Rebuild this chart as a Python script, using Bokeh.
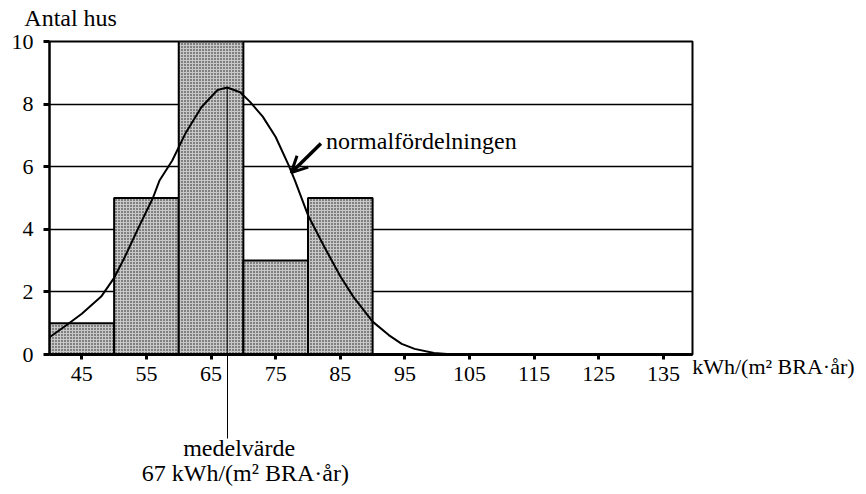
from bokeh.plotting import figure
from bokeh.models import Range1d, FixedTicker, Label, Arrow, OpenHead
from bokeh.embed import file_html
from bokeh.resources import INLINE

# ---- data ----
bin_left = [40, 50, 60, 70, 80]
bin_right = [50, 60, 70, 80, 90]
counts = [1, 5, 10, 3, 5]

x_ticks = [45, 55, 65, 75, 85, 95, 105, 115, 125, 135]
y_ticks = [0, 2, 4, 6, 8, 10]

curve_x = [34, 36, 38.5, 40, 42.5, 45, 48, 50, 51.5, 54, 56, 57, 59, 61, 63.5,
           66, 67.5, 69.5, 71, 73, 75, 77, 78, 80, 82.5, 85, 87, 90, 92.5,
           94.5, 96.5, 99.5, 102.5]
curve_y = [0.02, 0.15, 0.33, 0.55, 0.92, 1.3, 1.85, 2.45, 3.05, 4.15, 5.0, 5.55,
           6.2, 7.05, 7.9, 8.45, 8.53, 8.38, 8.08, 7.6, 6.95, 6.05, 5.55, 4.45,
           3.45, 2.5, 1.85, 1.05, 0.62, 0.34, 0.18, 0.05, 0.0]

mean_x = 67.5
mean_peak = 8.53

y_title = "Antal hus"
x_unit = "kWh/(m² BRA·år)"
curve_label = "normalfördelningen"
mean_label_1 = "medelvärde"
mean_label_2 = "67 kWh/(m² BRA·år)"

FONT = "Liberation Serif"

p = figure(width=858, height=486,
           x_range=Range1d(40, 139.5), y_range=Range1d(0, 10),
           output_backend="svg", toolbar_location=None,
           min_border_left=49, min_border_right=166,
           min_border_top=41, min_border_bottom=132)
p.background_fill_color = "white"
p.border_fill_color = "white"
p.outline_line_color = "black"
p.outline_line_width = 2

p.xgrid.visible = False
p.ygrid.ticker = FixedTicker(ticks=[2, 4, 6, 8, 10])
p.ygrid.grid_line_color = "black"
p.ygrid.grid_line_width = 1.5

p.quad(left=bin_left, right=bin_right, bottom=0, top=counts,
       fill_color="#c8c8c8", hatch_pattern="dot", hatch_color="black",
       hatch_scale=3, hatch_weight=1.5, hatch_alpha=0.9,
       line_color="black", line_width=2)

p.line(curve_x, curve_y, line_color="black", line_width=2)

# mean line inside the plot area
p.segment(x0=[mean_x], y0=[0], x1=[mean_x], y1=[mean_peak],
          line_color="black", line_width=1)

# axes
MEAN_TICK = 84
p.xaxis.ticker = FixedTicker(ticks=x_ticks, minor_ticks=[mean_x])
p.xaxis.axis_line_width = 3
p.xaxis.major_tick_out = 5
p.xaxis.major_tick_in = 0
p.xaxis.major_tick_line_width = 3
# the mean line continues below the axis as a long minor tick
p.xaxis.minor_tick_in = 0
p.xaxis.minor_tick_out = MEAN_TICK
p.xaxis.minor_tick_line_width = 1
p.xaxis.minor_tick_line_color = "black"
p.xaxis.major_label_standoff = 12 - MEAN_TICK
p.xaxis.major_label_text_font = FONT
p.xaxis.major_label_text_font_size = "22px"
p.xaxis.major_label_text_color = "black"

p.yaxis.ticker = FixedTicker(ticks=y_ticks)
p.yaxis.axis_line_width = 2
p.yaxis.major_tick_out = 6
p.yaxis.major_tick_in = 0
p.yaxis.major_tick_line_width = 3
p.yaxis.minor_tick_line_color = None
p.yaxis.major_label_standoff = 10
p.yaxis.major_label_text_font = FONT
p.yaxis.major_label_text_font_size = "22px"
p.yaxis.major_label_text_color = "black"

# arrow pointing at the curve
p.add_layout(Arrow(end=OpenHead(size=16, line_width=3, line_color="black"),
                   x_start=82.0, y_start=6.74, x_end=77.4, y_end=5.81,
                   line_width=3.5, line_color="black"))

def lab(x, y, t, align="left", place=None, size="24px"):
    l = Label(x=x, y=y, text=t, text_font=FONT, text_font_size=size,
              text_color="black", text_align=align, text_baseline="alphabetic")
    if place is None:
        p.add_layout(l)
    else:
        p.add_layout(l, place)

lab(82.8, 6.81, curve_label)
# texts outside the plot area live in side panels so they are not clipped
lab(36.1, 10.74, y_title, place="above")
lab(139.45, -0.38, x_unit, place="below", size="22px")
lab(69.35, -3.0, mean_label_1, "center", place="below")
lab(70.3, -3.77, mean_label_2, "center", place="below")

open("out.html", "w").write(file_html(p, INLINE))
